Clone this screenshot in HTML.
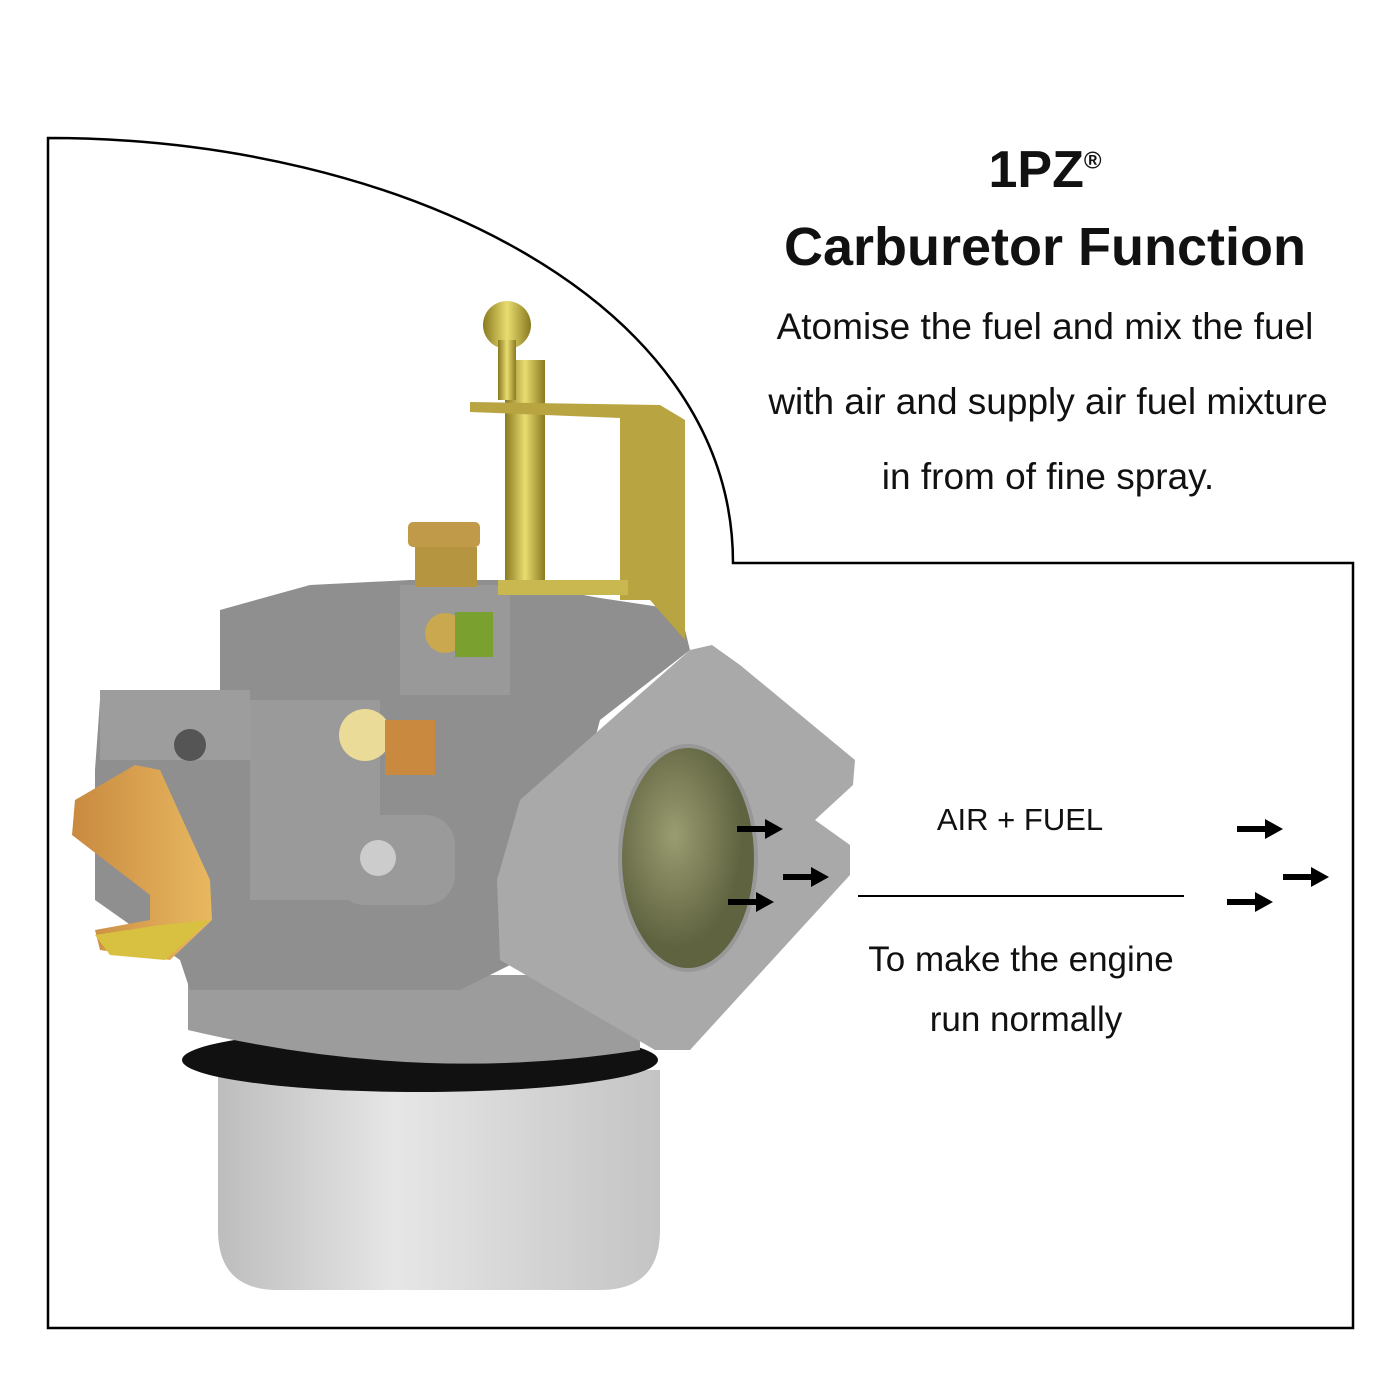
<!DOCTYPE html>
<html><head><meta charset="utf-8"><style>
html,body{margin:0;padding:0;background:#fff}
.w{position:relative;width:1400px;height:1400px;overflow:hidden;font-family:"Liberation Sans",sans-serif;color:#111}
.t{position:absolute;white-space:nowrap;text-align:center}
</style></head><body><div class="w">
<svg width="1400" height="1400" style="position:absolute;left:0;top:0">
<defs>
<linearGradient id="bowl" x1="0" x2="1"><stop offset="0" stop-color="#bdbdbd"/><stop offset="0.4" stop-color="#e6e6e6"/><stop offset="1" stop-color="#c4c4c4"/></linearGradient>
<radialGradient id="hole" cx="0.4" cy="0.4"><stop offset="0" stop-color="#9a9c70"/><stop offset="1" stop-color="#5f6340"/></radialGradient>
<linearGradient id="brass" x1="0" x2="1"><stop offset="0" stop-color="#8a7a20"/><stop offset="0.5" stop-color="#e8dc70"/><stop offset="1" stop-color="#8a7a20"/></linearGradient>
<linearGradient id="cop" x1="0" x2="1"><stop offset="0" stop-color="#c98a40"/><stop offset="1" stop-color="#e8b860"/></linearGradient>
</defs>
<path d="M48,1328 L48,138 C400,138 733,300 733,563 L1353,563 L1353,1328 Z" fill="none" stroke="#000" stroke-width="2.5"/>
<path d="M218,1070 L660,1070 L660,1230 Q660,1290 600,1290 L278,1290 Q218,1290 218,1230 Z" fill="url(#bowl)"/>
<ellipse cx="420" cy="1060" rx="238" ry="32" fill="#111"/>
<path d="M188,975 L640,975 L640,1050 Q420,1085 188,1030 Z" fill="#9c9c9c"/>
<path d="M100,700 L220,690 L220,610 L310,585 L410,580 L500,580 L600,598 L680,610 L690,650 L600,720 L560,870 L520,960 L460,990 L190,990 L180,960 L95,900 L95,770 Z" fill="#8f8f8f"/>
<rect x="250" y="700" width="130" height="200" fill="#9a9a9a"/>
<rect x="100" y="690" width="150" height="70" fill="#9d9d9d"/>
<circle cx="190" cy="745" r="16" fill="#555"/>
<rect x="335" y="815" width="120" height="90" rx="30" fill="#9a9a9a"/>
<circle cx="378" cy="858" r="18" fill="#ccc"/>
<rect x="400" y="585" width="110" height="110" fill="#999"/>
<path d="M520,800 L690,650 L712,645 L740,665 L855,760 L853,785 L815,820 L850,845 L850,875 L690,1050 L655,1050 L500,960 L497,880 Z" fill="#a9a9a9"/>
<ellipse cx="688" cy="858" rx="68" ry="112" fill="url(#hole)" stroke="#989898" stroke-width="4"/>
<rect x="505" y="360" width="40" height="230" fill="url(#brass)"/>
<path d="M470,402 L660,405 L685,420 L685,640 L650,600 L620,600 L620,418 L470,412 Z" fill="#b8a440"/>
<rect x="498" y="580" width="130" height="15" fill="#c9b850"/>
<circle cx="507" cy="325" r="24" fill="url(#brass)"/>
<rect x="498" y="340" width="18" height="60" fill="url(#brass)"/>
<rect x="408" y="522" width="72" height="25" rx="5" fill="#c09a48"/>
<rect x="415" y="547" width="62" height="40" fill="#b69540"/>
<circle cx="445" cy="633" r="20" fill="#c9a850"/>
<rect x="455" y="612" width="38" height="45" fill="#7aa030"/>
<circle cx="365" cy="735" r="26" fill="#eadc98"/>
<rect x="385" y="720" width="50" height="55" fill="#c98a40"/>
<path d="M75,800 L135,765 L160,770 L210,880 L212,920 L170,960 L100,950 L95,930 L150,920 L150,895 L72,835 Z" fill="url(#cop)"/>
<path d="M95,935 L160,925 L210,920 L165,960 L110,955 Z" fill="#d8c040"/>
<g fill="#000">
<path d="M737,826 h28 v-7 l18,10 -18,10 v-7 h-28z"/>
<path d="M783,874 h28 v-7 l18,10 -18,10 v-7 h-28z"/>
<path d="M728,899 h28 v-7 l18,10 -18,10 v-7 h-28z"/>
<path d="M1237,826 h28 v-7 l18,10 -18,10 v-7 h-28z"/>
<path d="M1283,874 h28 v-7 l18,10 -18,10 v-7 h-28z"/>
<path d="M1227,899 h28 v-7 l18,10 -18,10 v-7 h-28z"/>
</g>
<line x1="858" y1="896" x2="1184" y2="896" stroke="#000" stroke-width="2"/>
</svg>
<div class="t" style="left:845px;width:400px;top:140px;font-size:52px;font-weight:bold">1PZ<sup style="font-size:24px">®</sup></div>
<div class="t" style="left:745px;width:600px;top:216px;font-size:54px;font-weight:bold">Carburetor Function</div>
<div class="t" style="left:745px;width:600px;top:306px;font-size:37px">Atomise the fuel and mix the fuel</div>
<div class="t" style="left:748px;width:600px;top:381px;font-size:37px">with air and supply air fuel mixture</div>
<div class="t" style="left:748px;width:600px;top:456px;font-size:37px">in from of fine spray.</div>
<div class="t" style="left:870px;width:300px;top:802px;font-size:31px">AIR + FUEL</div>
<div class="t" style="left:821px;width:400px;top:940px;font-size:35px">To make the engine</div>
<div class="t" style="left:826px;width:400px;top:1000px;font-size:35px">run normally</div>
</div></body></html>
